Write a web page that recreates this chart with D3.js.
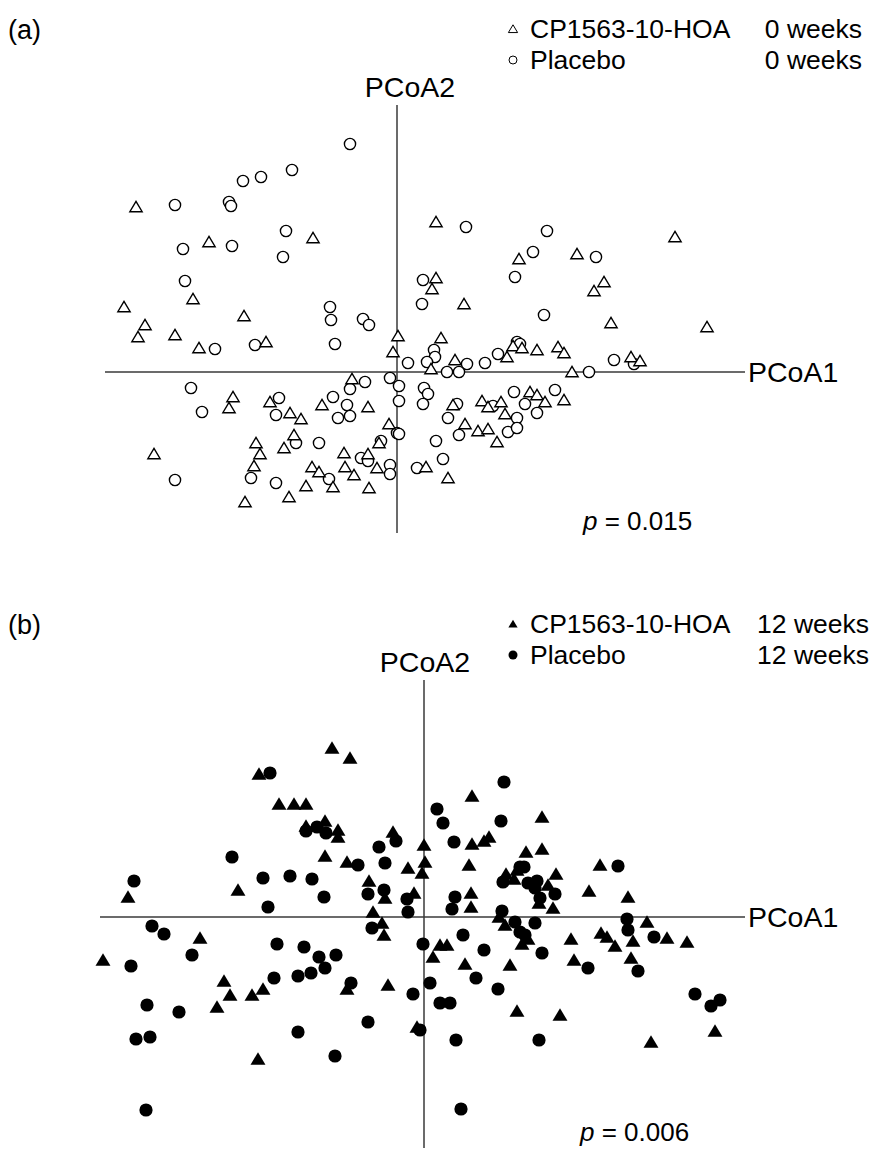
<!DOCTYPE html>
<html>
<head>
<meta charset="UTF-8">
<script src="https://d3js.org/d3.v7.min.js"></script>
<style>
body { margin: 0; background: #fff; }
text { font-family: "Liberation Sans", Arial, sans-serif; fill: #000; }
</style>
</head>
<body>
<svg id="chart" width="872" height="1149"></svg>
<script>
// PCoA scores, 0 weeks
var treat0 = [[-2.61,1.65],[-0.84,1.34],[-1.88,1.30],[-2.04,0.73],[-2.73,0.65],[-1.53,0.56],[-2.52,0.47],[-2.59,0.35],
  [-2.22,0.37],[-1.98,0.24],[-1.31,0.30],[0.01,0.36],[-0.04,0.20],[-0.45,-0.07],[-1.64,-0.25],[-1.68,-0.36],
  [-1.27,-0.30],[-1.07,-0.41],[-0.96,-0.47],[-0.75,-0.33],[-0.29,-0.35],[-0.08,-0.52],[-0.18,-0.71],[-1.03,-0.63],
  [-1.13,-0.76],[-1.41,-0.71],[-1.37,-0.82],[-1.43,-0.94],[-2.43,-0.82],[-1.52,-1.30],[-1.08,-1.25],[-0.91,-1.14],
  [-0.85,-0.95],[-0.78,-1.00],[-0.64,-1.15],[-0.53,-0.81],[-0.52,-0.95],[-0.43,-1.03],[-0.29,-0.82],[-0.20,-0.96],
  [-0.28,-1.16],
  [0.39,1.50],[2.78,1.35],[1.22,1.13],[1.80,1.18],[0.39,0.94],[0.35,0.83],[2.07,0.90],[1.97,0.81],[0.67,0.68],
  [2.14,0.49],[3.10,0.45],[0.44,0.34],[0.34,0.03],[0.58,0.12],[1.10,0.15],[1.16,0.26],[1.25,0.24],[1.40,0.22],
  [1.61,0.25],[1.67,0.19],[1.75,0.00],[2.34,0.15],[2.43,0.11],[1.33,-0.20],[1.40,-0.23],[1.48,-0.30],[1.67,-0.28],
  [0.56,-0.33],[0.85,-0.29],[0.91,-0.35],[1.04,-0.30],[1.08,-0.42],[0.68,-0.52],[0.81,-0.59],[0.91,-0.57],
  [1.00,-0.70],[0.29,-0.95],[0.51,-1.06]];
var placebo0 = [[-0.47,2.28],[-1.05,2.02],[-1.36,1.95],[-1.54,1.91],[-2.22,1.67],[-1.68,1.70],[-1.66,1.66],[-1.11,1.41],
  [-1.65,1.26],[-2.14,1.23],[-1.14,1.15],[-2.12,0.91],[-0.67,0.65],[-0.66,0.52],[-0.34,0.53],[-0.28,0.47],
  [-1.82,0.23],[-1.42,0.27],[-0.62,0.28],[-2.06,-0.16],[-1.95,-0.40],[-1.18,-0.26],[-1.21,-0.43],[-0.64,-0.25],
  [-0.50,-0.33],[-0.59,-0.46],[-0.47,-0.44],[-0.32,-0.10],[-0.47,-0.17],[-0.07,-0.06],[0.02,-0.14],[0.02,-0.29],
  [0.00,-0.61],[0.02,-0.62],[-0.16,-0.69],[-1.01,-0.71],[-0.78,-0.71],[-1.46,-1.06],[-2.22,-1.08],[-1.21,-1.11],
  [-0.68,-1.07],[-0.36,-0.86],[-0.29,-0.89],[-0.07,-0.93],[-0.07,-1.02],
  [0.69,1.45],[1.50,1.41],[1.36,1.20],[1.99,1.15],[0.26,0.92],[1.18,0.95],[0.25,0.68],[1.47,0.57],[0.37,0.22],
  [0.38,0.15],[0.11,0.09],[0.30,0.10],[0.70,0.08],[0.50,0.00],[0.62,0.00],[0.88,0.09],[1.01,0.18],[1.20,0.30],
  [1.23,0.28],[1.92,0.00],[2.17,0.12],[2.37,0.08],[0.27,-0.16],[0.31,-0.22],[0.26,-0.32],[1.17,-0.20],[1.58,-0.18],
  [1.28,-0.32],[1.40,-0.41],[0.60,-0.32],[0.96,-0.34],[1.20,-0.46],[0.51,-0.46],[0.62,-0.63],[1.11,-0.60],
  [1.20,-0.56],[0.39,-0.69],[0.46,-0.87],[0.20,-0.96]];

// PCoA scores, 12 weeks
var treat12 = [[-0.92,1.69],[-0.74,1.59],[-1.65,1.43],[-1.45,1.13],[-1.30,1.13],[-1.18,1.13],[-1.18,0.91],[-0.99,0.96],
  [-0.86,0.87],[-0.86,0.80],[-0.31,0.85],[0.00,0.72],[-0.99,0.61],[-0.77,0.55],[-0.16,0.49],[0.01,0.55],
  [-0.02,0.44],[-2.96,0.20],[-1.86,0.27],[-0.55,0.36],[-0.39,0.19],[-0.10,0.24],[-0.51,0.05],[-0.42,-0.06],
  [0.48,1.21],[1.18,1.00],[0.65,0.80],[0.60,0.76],[0.48,0.73],[1.02,0.65],[1.18,0.68],[0.45,0.52],[1.76,0.52],
  [0.93,0.47],[0.82,0.43],[0.90,0.38],[1.32,0.43],[1.24,0.32],[1.15,0.14],[1.29,0.09],[1.65,0.26],[2.04,0.20],
  [0.47,0.24],[0.47,0.10],[0.75,0.00],[2.23,-0.05],[0.81,-0.08],[0.98,-0.27],[1.04,-0.22],[0.16,-0.28],
  [0.23,-0.28],[0.09,-0.40],[0.41,-0.47],[0.86,-0.48],[0.93,-0.94],[1.36,-0.98],[1.47,-0.22],[1.50,-0.43],
  [1.77,-0.16],[1.83,-0.20],[1.91,-0.29],[2.09,-0.24],[2.43,-0.21],[2.63,-0.25],[2.07,-0.41],[2.91,-1.14],
  [2.27,-1.25],[-2.24,-0.21],[-3.21,-0.43],[-2.00,-0.64],[-1.94,-0.78],[-2.07,-0.90],[-1.72,-0.78],[-1.61,-0.72],
  [-0.77,-0.72],[-0.40,-0.18],[-0.36,-0.68],[-0.07,-1.10],[-1.66,-1.42]];
var placebo12 = [[-1.54,1.44],[-1.18,0.86],[-1.07,0.90],[-0.98,0.84],[-0.28,0.76],[-0.45,0.70],[-1.92,0.60],[-0.66,0.52],
  [-0.39,0.54],[-2.90,0.36],[-1.61,0.39],[-1.34,0.41],[-1.12,0.38],[-1.00,0.20],[-1.56,0.10],[-0.56,0.23],
  [-0.40,0.27],[-0.17,0.18],[-0.16,0.05],[-2.72,-0.09],[-0.52,-0.11],
  [0.80,1.35],[0.13,1.08],[0.19,0.94],[0.77,0.96],[0.30,0.75],[1.94,0.51],[0.96,0.50],[1.00,0.50],[0.79,0.35],
  [1.04,0.34],[1.13,0.36],[1.11,0.29],[1.16,0.19],[1.31,0.23],[0.31,0.20],[0.28,0.08],[0.78,0.06],[2.03,-0.02],
  [0.91,-0.05],[0.96,-0.15],[1.01,-0.18],[1.11,-0.06],[-0.01,-0.27],[0.39,-0.18],[0.60,-0.33],[1.18,-0.36],
  [0.06,-0.66],[0.52,-0.61],[0.74,-0.72],[0.16,-0.86],[0.26,-0.86],[-0.04,-1.13],[0.32,-1.23],[1.15,-1.23],
  [0.37,-1.92],[1.64,-0.51],[2.04,-0.13],[2.30,-0.20],[2.14,-0.54],[2.71,-0.77],[2.87,-0.89],[2.96,-0.83],
  [-2.60,-0.17],[-2.32,-0.38],[-2.93,-0.49],[-1.47,-0.27],[-1.20,-0.30],[-1.05,-0.40],[-0.88,-0.38],[-0.99,-0.51],
  [-1.50,-0.61],[-1.26,-0.59],[-1.13,-0.56],[-0.73,-0.66],[-0.11,-0.77],[-2.77,-0.88],[-2.45,-0.95],[-2.88,-1.22],
  [-2.74,-1.20],[-1.26,-1.15],[-0.56,-1.05],[-0.89,-1.39],[-2.78,-1.93]];

var groupNames = ["CP1563-10-HOA", "Placebo"];
var weekLabels = ["0 weeks", "12 weeks"];
var pValues = ["0.015", "0.006"];

var svg = d3.select("#chart");

var panels = [
  {tag: "(a)", filled: false, tri: treat0, circ: placebo0, week: weekLabels[0], p: pValues[0],
   x: d3.scaleLinear().domain([-2.92, 3.48]).range([105, 745]),
   y: d3.scaleLinear().domain([2.67, -1.61]).range([105, 533]),
   top: 0, weekRight: 862, pX: 583, pY: 530, labelShift: 13},
  {tag: "(b)", filled: true, tri: treat12, circ: placebo12, week: weekLabels[1], p: pValues[1],
   x: d3.scaleLinear().domain([-3.24, 3.21]).range([100, 745]),
   y: d3.scaleLinear().domain([2.37, -2.31]).range([680, 1148]),
   top: 595, weekRight: 869, pX: 580, pY: 1141, labelShift: 1}
];

function triPath(s) {
  return "M0," + (-s) + "L" + (s * 1.1) + "," + (s * 0.85) + "L" + (-s * 1.1) + "," + (s * 0.85) + "Z";
}

panels.forEach(function(P) {
  var g = svg.append("g");
  var fill = P.filled ? "#000" : "#fff";
  var sw = P.filled ? 0 : 1.4;

  // panel tag
  g.append("text").attr("x", 8).attr("y", P.top + 39).attr("font-size", 27).text(P.tag);

  // legend
  var leg = g.append("g").attr("transform", "translate(0," + P.top + ")");
  leg.append("path").attr("d", triPath(4.2))
    .attr("transform", "translate(513,29)")
    .attr("fill", fill).attr("stroke", "#000").attr("stroke-width", P.filled ? 0 : 1);
  leg.append("circle").attr("cx", 513).attr("cy", 60).attr("r", P.filled ? 4.5 : 4)
    .attr("fill", fill).attr("stroke", "#000").attr("stroke-width", P.filled ? 0 : 1);
  groupNames.forEach(function(n, i) {
    leg.append("text").attr("x", 530).attr("y", 38 + i * 31).attr("font-size", 26.5).text(n);
    leg.append("text").attr("x", P.weekRight).attr("y", 38 + i * 31).attr("font-size", 26.5)
      .attr("text-anchor", "end").text(P.week);
  });

  // axis lines through origin
  var xr = P.x.range(), yr = P.y.range();
  g.append("line").attr("x1", xr[0]).attr("x2", xr[1]).attr("y1", P.y(0)).attr("y2", P.y(0))
    .attr("stroke", "#3a3a3a").attr("stroke-width", 1.5);
  g.append("line").attr("x1", P.x(0)).attr("x2", P.x(0)).attr("y1", yr[0]).attr("y2", yr[1])
    .attr("stroke", "#3a3a3a").attr("stroke-width", 1.5);

  g.append("text").attr("x", P.x(0) + P.labelShift).attr("y", yr[0] - 8).attr("font-size", 28.5)
    .attr("text-anchor", "middle").text("PCoA2");
  g.append("text").attr("x", xr[1] + 3).attr("y", P.y(0) + 10).attr("font-size", 28.5).text("PCoA1");

  var pt = g.append("text").attr("x", P.pX).attr("y", P.pY).attr("font-size", 26);
  pt.append("tspan").attr("font-style", "italic").text("p");
  pt.append("tspan").text(" = " + P.p);

  // points
  var r = P.filled ? 6.6 : 5.6;
  g.selectAll("circle.pt").data(P.circ).enter().append("circle").attr("class", "pt")
    .attr("cx", function(d) { return P.x(d[0]); })
    .attr("cy", function(d) { return P.y(d[1]); })
    .attr("r", r)
    .attr("fill", fill).attr("stroke", "#000").attr("stroke-width", sw);
  g.selectAll("path.pt").data(P.tri).enter().append("path").attr("class", "pt")
    .attr("d", triPath(P.filled ? 6.8 : 5.6))
    .attr("transform", function(d) { return "translate(" + P.x(d[0]) + "," + P.y(d[1]) + ")"; })
    .attr("fill", fill).attr("stroke", "#000").attr("stroke-width", sw).attr("stroke-linejoin", "miter");
});
</script>
</body>
</html>
